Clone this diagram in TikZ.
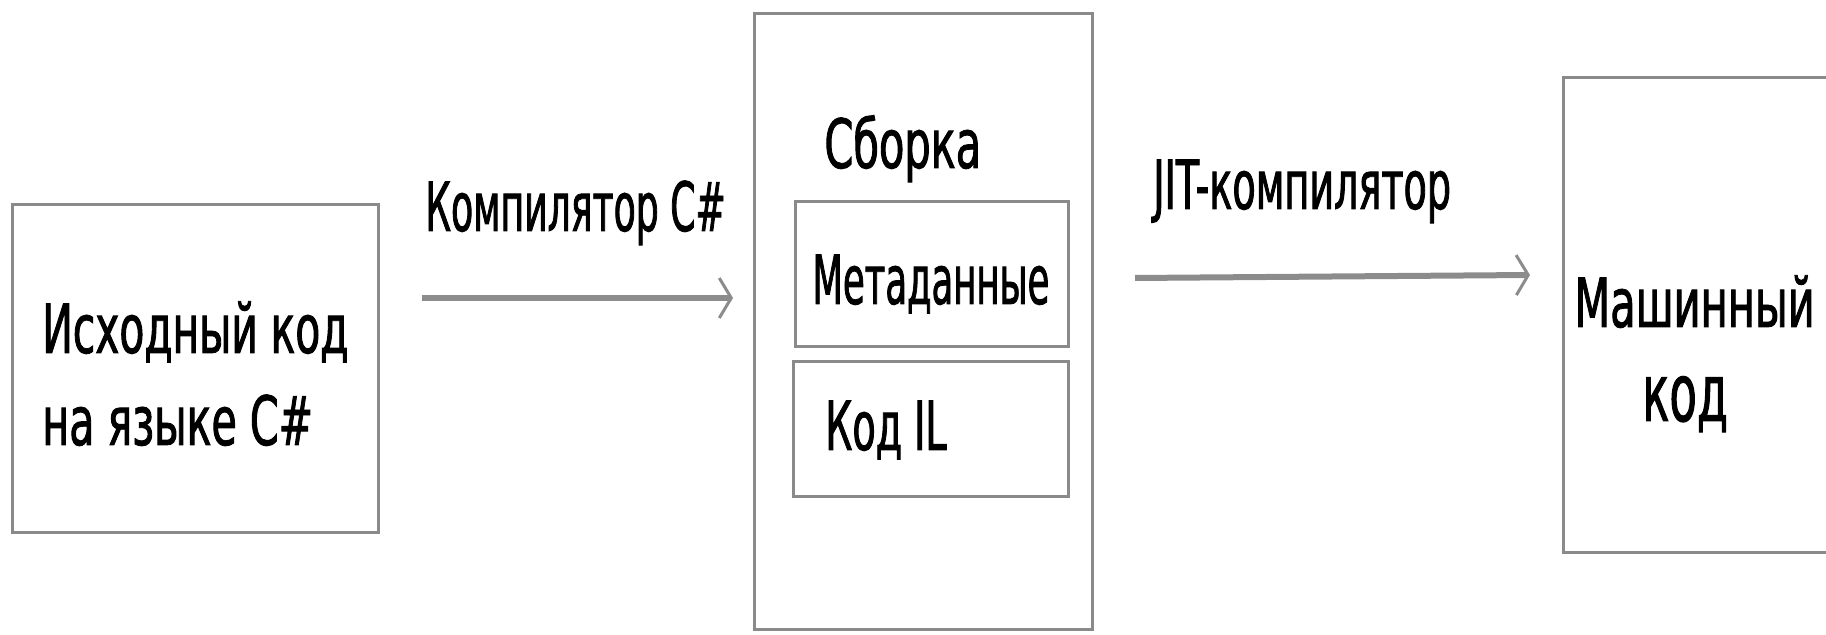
\documentclass[tikz,border=0pt]{standalone}
\usepackage{fontspec}
\setmainfont{DejaVu Sans}[FakeStretch=0.56,FakeBold=1.2]
\usetikzlibrary{arrows.meta,fit}
\definecolor{boxgray}{HTML}{8A8A8A}
\definecolor{arrgray}{HTML}{8C8C8C}
\newcommand{\hsq}[2]{\scalebox{#1}[1]{#2}}
\tikzset{
  box/.style={draw=boxgray, line width=1.5pt, inner sep=0pt},
  lbl/.style={anchor=base west, inner sep=0pt, font=\fontsize{34}{40}\selectfont},
  arr/.style={draw=arrgray, line width=3pt, -{Straight Barb[length=6pt,width=20pt,line width=1.5pt]}}
}
\begin{document}
\begin{tikzpicture}[x=0.5pt,y=-0.5pt]
\useasboundingbox (0,0) rectangle (1826,635);
\clip (0,0) rectangle (1826,635);
\node[box, fit={(12,205) (378,533)}] (src) {};
\node[lbl] (src1) at (42,353) {\hsq{1.07}{Исходный код}};
\node[lbl] (src2) at (42,445) {\hsq{1.08}{на языке C\#}};
\node[box, fit={(754,14) (1092,630)}] (asm) {};
\node[lbl] (asmt) at (824,168) {\hsq{1.09}{Сборка}};
\node[box, fit={(795,202) (1068,347)}] (meta) {};
\node[lbl] (metat) at (812,304) {\hsq{0.93}{Метаданные}};
\node[box, fit={(793,362) (1068,497)}] (il) {};
\node[lbl] (ilt) at (825,450) {Код IL};
\node[box, fit={(1563,78) (1900,553)}] (mc) {};
\node[lbl] (mc1) at (1574,327) {\hsq{1.09}{Машинный}};
\node[lbl, font=\fontsize{40}{46}\selectfont] (mc2) at (1642,421) {код};
\coordinate (a1s) at (422,298);
\coordinate (a1e) at (733,298);
\draw[arr] (a1s) -- (a1e);
\node[lbl] (l1) at (425,231) {\hsq{0.95}{Компилятор C\#}};
\coordinate (a2s) at (1135,278);
\coordinate (a2e) at (1530,275);
\draw[arr] (a2s) -- (a2e);
\node[lbl] (l2) at (1153,209) {JIT-компилятор};
\end{tikzpicture}
\end{document}
